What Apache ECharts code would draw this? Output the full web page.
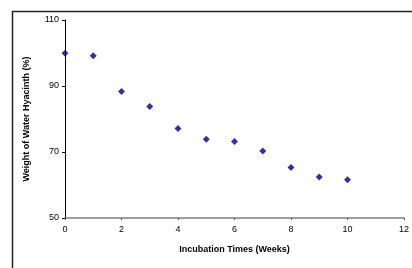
<!DOCTYPE html>
<html>
<head>
<meta charset="utf-8">
<script src="https://cdn.jsdelivr.net/npm/echarts@6/dist/echarts.min.js"></script>
<style>
  html, body { margin: 0; padding: 0; background: #fff; }
  #container { width: 412px; height: 268px; }
</style>
</head>
<body>
<div id="container"></div>
<script>
let dom = document.getElementById("container");
let myChart = echarts.init(dom);

// incubation weeks and remaining weight (%)
const weeks = [0, 1, 2, 3, 4, 5, 6, 7, 8, 9, 10];
const weight = [99.9, 99.2, 88.3, 83.8, 77.1, 73.9, 73.2, 70.3, 65.3, 62.4, 61.6];

let points = weeks.map((w, i) => [w, weight[i]]);
const font = 'Liberation Sans, Arial, sans-serif';

let option = {
    animation: false,
    backgroundColor: '#fff',
    graphic: [{
        type: 'rect',
        left: 10,
        top: 9,
        shape: { width: 430, height: 300 },
        style: { fill: 'none', stroke: '#222', lineWidth: 1.5 },
        silent: true
    }],
    grid: {
        left: 65,
        right: 5,
        top: 20,
        bottom: 50
    },
    xAxis: {
        type: 'value',
        min: 0,
        max: 12,
        interval: 2,
        name: 'Incubation Times (Weeks)',
        nameLocation: 'middle',
        nameGap: 27,
        nameTextStyle: { fontFamily: font, fontSize: 9, fontWeight: 'bold', color: '#000' },
        axisLine: { lineStyle: { color: '#808080', width: 1.5 } },
        axisTick: { show: true, length: 2, lineStyle: { color: '#555' } },
        axisLabel: { fontFamily: font, fontSize: 9, color: '#000', margin: 7 },
        splitLine: { show: false }
    },
    yAxis: {
        type: 'value',
        min: 50,
        max: 110,
        interval: 20,
        name: 'Weight of Water Hyacinth (%)',
        nameLocation: 'middle',
        nameGap: 34,
        nameRotate: 90,
        nameTextStyle: { fontFamily: font, fontSize: 9, fontWeight: 'bold', color: '#000' },
        axisLine: { show: true, lineStyle: { color: '#000', width: 1 } },
        axisTick: { show: true, length: 3, lineStyle: { color: '#000' } },
        axisLabel: { fontFamily: font, fontSize: 9, color: '#000', margin: 6 },
        splitLine: { show: false }
    },
    series: [{
        type: 'scatter',
        symbol: 'diamond',
        symbolSize: 7,
        itemStyle: { color: '#000080' },
        data: points
    }]
};

myChart.setOption(option, true);
</script>
</body>
</html>
